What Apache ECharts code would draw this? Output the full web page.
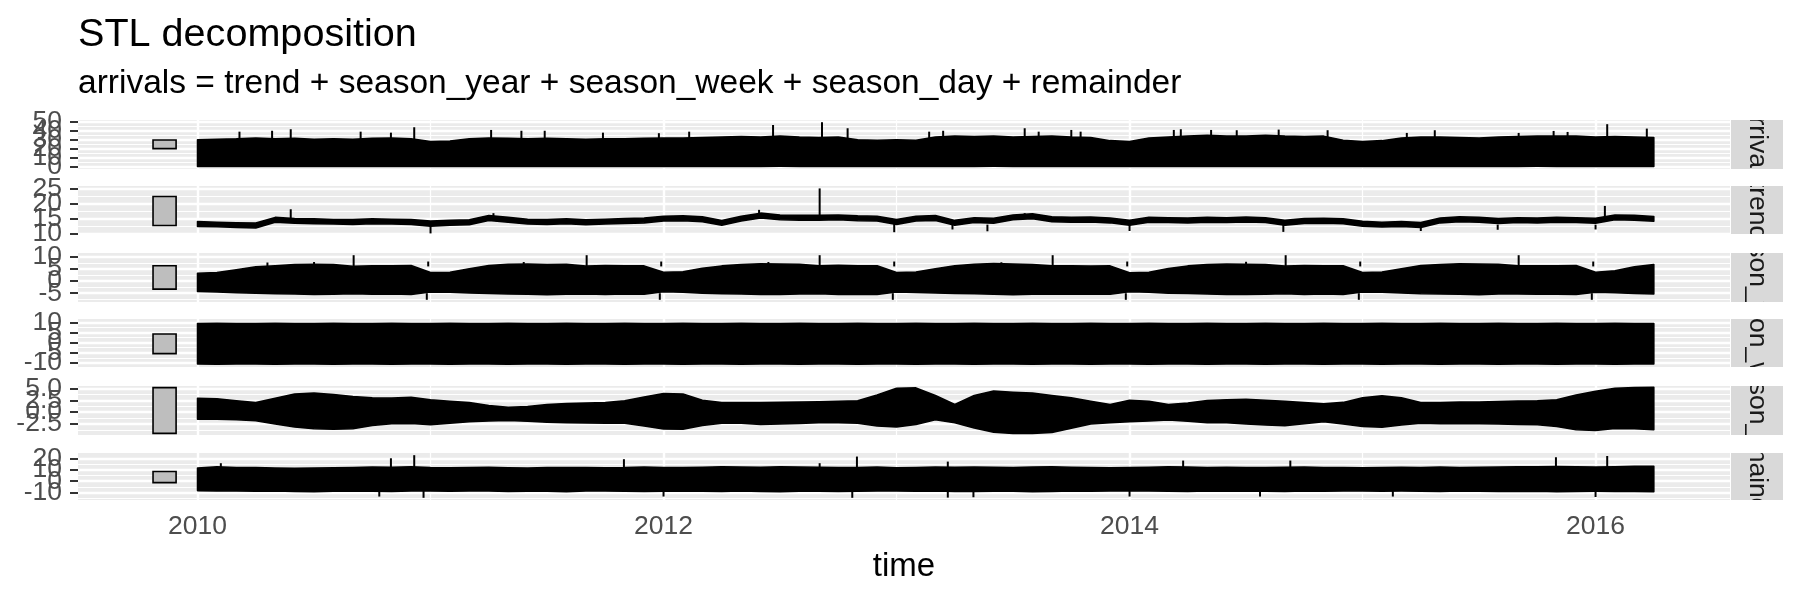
<!DOCTYPE html>
<html>
<head>
<meta charset="utf-8">
<script src="https://cdn.jsdelivr.net/npm/echarts@6/dist/echarts.min.js"></script>
<style>
  html, body { margin: 0; padding: 0; background: #fff; }
  #chart { width: 1800px; height: 600px; }
</style>
</head>
<body>
<div id="chart"></div>
<script>
// monthly upper / lower edges of each hourly trace, Jan 2010 .. Apr 2016 (76 months)
const arrivalsHi = [
  30, 30.5, 31, 32, 31, 31.5, 30.5, 31, 30.5, 31.5, 32, 31,
  28, 28.5, 31, 32, 31.5, 31, 31.5, 31, 30.5, 31, 31, 31.5,
  32, 32, 32.5, 33, 33.5, 33, 34, 33, 32.5, 33, 30, 29.5,
  30, 29.5, 33, 34, 33.5, 34, 33, 33.5, 34, 33, 32.5, 29,
  28, 32, 33, 34, 35, 34, 34, 35, 34, 33.5, 34, 29.5,
  28, 29, 32, 33, 33, 32.5, 32, 33, 33.5, 34, 34, 34,
  33, 33.5, 33, 32.5
]
const arrivalsLo = [
  0.4, 0.3, 0.5, 0.3, 0.4, 0.6, 0.3, 0.4, 0.5, 0.3, 0.4, 0.3,
  0.3, 0.4, 0.3, 0.5, 0.4, 0.3, 0.6, 0.4, 0.3, 0.4, 0.5, 0.3,
  0.4, 0.3, 0.5, 0.4, 0.3, 0.4, 0.6, 0.5, 0.4, 0.3, 0.4, 0.5,
  0.3, 0.4, 0.3, 0.5, 0.4, 0.6, 0.4, 0.3, 0.5, 0.4, 0.3, 0.4,
  0.5, 0.3, 0.4, 0.3, 0.6, 0.4, 0.5, 0.3, 0.4, 0.5, 0.3, 0.4,
  0.3, 0.4, 0.5, 0.4, 0.3, 0.5, 0.4, 0.3, 0.4, 0.6, 0.4, 0.3,
  0.4, 0.3, 0.5, 0.4
]
const trendHi = [
  14.0, 13.8, 13.6, 13.5, 15.4, 15.0, 14.9, 14.7, 14.7, 14.9, 14.8, 14.7,
  14.2, 14.4, 14.6, 16.0, 15.4, 14.8, 14.7, 14.9, 14.6, 14.8, 15.0, 15.2,
  15.8, 15.9, 15.6, 14.4, 15.8, 16.8, 16.2, 16.1, 16.1, 16.2, 15.9, 15.8,
  14.7, 15.8, 16.0, 14.4, 15.3, 15.1, 16.2, 16.6, 15.6, 15.4, 15.5, 15.2,
  14.4, 15.4, 15.3, 15.2, 15.4, 15.3, 15.5, 15.3, 14.4, 15.0, 15.1, 14.9,
  14.1, 13.8, 14.0, 13.7, 15.2, 15.6, 15.4, 15.0, 15.3, 15.2, 15.4, 15.3,
  15.1, 16.2, 16.1, 15.7
]
const trendLo = [
  12.4, 12.3, 12.1, 11.9, 13.8, 13.5, 13.3, 13.2, 13.1, 13.3, 13.2, 13.1,
  12.5, 12.8, 13.0, 14.4, 13.8, 13.2, 13.1, 13.3, 13.0, 13.2, 13.4, 13.6,
  14.2, 14.3, 14.0, 12.8, 14.2, 15.2, 14.6, 14.5, 14.5, 14.6, 14.3, 14.2,
  13.1, 14.2, 14.4, 12.8, 13.7, 13.5, 14.6, 15.0, 14.0, 13.8, 13.9, 13.6,
  12.8, 13.8, 13.7, 13.6, 13.8, 13.7, 13.9, 13.7, 12.8, 13.4, 13.5, 13.3,
  12.5, 12.2, 12.4, 12.1, 13.6, 14.0, 13.8, 13.4, 13.7, 13.6, 13.8, 13.7,
  13.5, 14.6, 14.5, 14.1
]
const yearHi = [
  3.2, 3.5, 4.6, 5.8, 6.3, 6.8, 6.9, 6.8, 6.0, 6.3, 6.2, 6.4,
  3.5, 3.6, 5.0, 6.4, 6.9, 7.0, 6.8, 6.9, 6.1, 6.4, 6.3, 6.2,
  3.6, 3.8, 5.2, 6.2, 6.8, 7.1, 7.0, 6.9, 6.2, 6.5, 6.2, 6.3,
  3.5, 3.7, 5.0, 6.3, 6.9, 7.2, 7.0, 6.8, 6.3, 6.3, 6.1, 6.2,
  3.4, 3.6, 5.1, 6.2, 6.8, 7.0, 6.9, 6.8, 6.1, 6.4, 6.2, 6.3,
  3.5, 3.7, 5.0, 6.4, 6.8, 7.1, 7.0, 6.9, 6.2, 6.3, 6.2, 6.4,
  3.6, 4.2, 5.8, 6.8
]
const yearLo = [
  -4.3, -4.5, -4.8, -5.0, -5.2, -5.3, -5.5, -5.4, -5.2, -5.4, -5.3, -5.5,
  -4.5, -4.6, -4.9, -5.1, -5.3, -5.4, -5.6, -5.4, -5.3, -5.5, -5.3, -5.4,
  -4.4, -4.6, -5.0, -5.2, -5.3, -5.5, -5.5, -5.3, -5.2, -5.5, -5.4, -5.5,
  -4.5, -4.7, -4.9, -5.1, -5.2, -5.4, -5.6, -5.4, -5.3, -5.4, -5.3, -5.4,
  -4.4, -4.6, -5.0, -5.1, -5.3, -5.5, -5.5, -5.4, -5.2, -5.5, -5.3, -5.5,
  -4.5, -4.6, -4.9, -5.2, -5.3, -5.4, -5.6, -5.3, -5.3, -5.4, -5.4, -5.5,
  -4.6, -4.8, -5.1, -5.3
]
const weekHi = [
  9.4, 9.5, 9.4, 9.4, 9.5, 9.4, 9.4, 9.5, 9.4, 9.4, 9.5, 9.4,
  9.4, 9.5, 9.4, 9.4, 9.5, 9.4, 9.4, 9.5, 9.4, 9.4, 9.5, 9.4,
  9.4, 9.5, 9.4, 9.4, 9.5, 9.4, 9.4, 9.5, 9.4, 9.4, 9.5, 9.4,
  9.4, 9.5, 9.4, 9.4, 9.5, 9.4, 9.4, 9.5, 9.4, 9.4, 9.5, 9.4,
  9.4, 9.5, 9.4, 9.4, 9.5, 9.4, 9.4, 9.5, 9.4, 9.4, 9.5, 9.4,
  9.4, 9.5, 9.4, 9.4, 9.5, 9.4, 9.4, 9.5, 9.4, 9.4, 9.5, 9.4,
  9.4, 9.5, 9.4, 9.4
]
const weekLo = [
  -10.5, -10.6, -10.5, -10.5, -10.6, -10.5, -10.5, -10.6, -10.5, -10.5, -10.6, -10.5,
  -10.5, -10.6, -10.5, -10.5, -10.6, -10.5, -10.5, -10.6, -10.5, -10.5, -10.6, -10.5,
  -10.5, -10.6, -10.5, -10.5, -10.6, -10.5, -10.5, -10.6, -10.5, -10.5, -10.6, -10.5,
  -10.5, -10.6, -10.5, -10.5, -10.6, -10.5, -10.5, -10.6, -10.5, -10.5, -10.6, -10.5,
  -10.5, -10.6, -10.5, -10.5, -10.6, -10.5, -10.5, -10.6, -10.5, -10.5, -10.6, -10.5,
  -10.5, -10.6, -10.5, -10.5, -10.6, -10.5, -10.5, -10.6, -10.5, -10.5, -10.6, -10.5,
  -10.5, -10.6, -10.5, -10.5
]
const dayHi = [
  2.9, 2.8, 2.4, 2.0, 2.9, 3.8, 4.0, 3.7, 3.3, 3.0, 2.95, 3.1,
  2.6, 2.3, 2.0, 1.4, 1.0, 1.2, 1.6, 1.8, 1.9, 2.0, 2.4, 3.2,
  3.9, 3.8, 2.5, 2.0, 2.0, 2.0, 2.05, 2.1, 2.2, 2.3, 2.4, 3.6,
  5.0, 5.1, 3.5, 1.6, 3.5, 4.45, 4.2, 4.0, 3.5, 3.0, 2.3, 1.6,
  2.5, 2.3, 1.6, 1.9, 2.45, 2.6, 2.7, 2.5, 2.3, 2.0, 1.75, 2.05,
  3.0, 3.45, 3.0, 2.0, 2.0, 2.1, 2.15, 2.25, 2.35, 2.4, 2.6, 3.6,
  4.4, 5.0, 5.15, 5.24
]
const dayLo = [
  -1.5, -1.5, -1.6, -1.8, -2.5, -3.1, -3.5, -3.6, -3.5, -2.8, -2.4, -2.35,
  -2.65, -2.3, -2.0, -1.85, -1.75, -1.9, -2.1, -2.2, -2.25, -2.3, -2.3, -2.9,
  -3.55, -3.6, -2.8, -2.3, -2.3, -2.6, -2.5, -2.35, -2.2, -2.2, -2.3, -2.9,
  -3.1, -2.6, -1.6, -2.2, -3.3, -4.2, -4.5, -4.45, -4.25, -3.4, -2.5, -2.2,
  -2.0, -1.85, -1.65, -1.9, -2.2, -2.2, -2.5, -2.7, -2.85, -2.4, -2.0, -2.5,
  -3.0, -3.15, -2.7, -2.3, -2.4, -2.45, -2.45, -2.5, -2.6, -2.65, -3.0, -3.7,
  -3.85, -3.4, -3.5, -3.7
]
const remHi = [
  11.5, 12.5, 11.8, 12.0, 11.5, 11.2, 11.4, 11.6, 12.0, 12.4, 12.2, 12.5,
  11.8, 11.6, 11.9, 12.1, 11.7, 11.5, 11.8, 12.0, 11.9, 11.7, 11.8, 12.3,
  12.0, 11.8, 12.2, 12.5, 12.3, 12.1, 12.6, 12.4, 12.2, 12.0, 11.8, 12.4,
  11.7, 12.0, 12.3, 12.1, 12.4, 12.2, 12.0, 12.3, 12.6, 12.2, 11.9, 11.6,
  11.9, 12.2, 12.5, 12.3, 12.0, 12.1, 11.8, 11.9, 12.2, 12.4, 12.0, 11.8,
  11.6, 11.9, 12.1, 11.9, 12.3, 12.0, 12.2, 12.4, 12.6, 12.5, 12.8, 12.6,
  12.4, 12.6, 12.9, 13.1
]
const remLo = [
  -8.2, -8.6, -8.4, -8.8, -8.5, -8.9, -9.2, -8.7, -8.5, -8.8, -9.0, -8.6,
  -8.4, -8.7, -8.5, -8.6, -8.9, -8.7, -8.8, -9.1, -8.6, -8.5, -8.8, -8.9,
  -8.7, -8.5, -8.8, -9.0, -8.6, -8.9, -9.2, -8.8, -8.7, -9.0, -8.8, -8.6,
  -8.5, -8.8, -8.6, -9.0, -8.9, -8.7, -8.8, -9.1, -8.9, -8.6, -8.7, -8.5,
  -8.6, -8.4, -8.7, -8.9, -8.6, -8.8, -8.5, -8.7, -8.9, -8.6, -8.8, -8.5,
  -8.4, -8.7, -8.6, -8.8, -8.9, -8.6, -8.7, -8.9, -9.0, -8.8, -9.1, -8.9,
  -8.8, -9.0, -8.9, -9.1
]

// isolated hourly spikes: [decimal year, from, to]
const arrivalsSpikes = [
  [2010.18, 30, 39], [2010.32, 30, 40], [2010.40, 30, 41.7], [2010.70, 30, 39], [2010.83, 30, 37.9],
  [2010.93, 30, 43.9], [2011.26, 30, 40.9], [2011.39, 30, 40], [2011.49, 30, 40], [2011.74, 30, 37.9],
  [2011.98, 30, 37.3], [2012.11, 30, 39], [2012.47, 30, 46.4], [2012.68, 30, 49.5], [2012.79, 30, 42.8],
  [2013.14, 30, 39], [2013.20, 30, 40], [2013.55, 30, 42.8], [2013.61, 30, 39], [2013.75, 30, 40.9],
  [2013.79, 30, 39], [2014.19, 30, 40.9], [2014.22, 30, 41.7], [2014.35, 30, 40.9], [2014.46, 30, 40.6],
  [2014.64, 30, 41.3], [2014.85, 30, 40.6], [2015.19, 30, 37.6], [2015.31, 30, 40.6], [2015.67, 30, 37.6],
  [2015.82, 30, 39.8], [2015.88, 30, 38.7], [2016.05, 30, 47.3], [2016.22, 30, 42.4]
]
const trendSpikes = [
  [2010.40, 15, 18.1], [2011.00, 12.5, 10.1], [2011.27, 15, 16.8], [2012.41, 16, 17.9], [2012.67, 16, 25.0],
  [2012.99, 13.5, 10.5], [2013.24, 13, 11.4], [2013.39, 13, 10.8], [2013.55, 15, 16.8], [2014.00, 13, 10.9],
  [2014.66, 13, 10.6], [2015.25, 12.5, 10.9], [2015.58, 13, 11.3], [2016.00, 13, 11.4], [2016.04, 15, 19.2]
]
const yearSpikes = [
  [2010.67, 6, 10.6], [2010.99, 6, 8.0], [2010.984, -5, -7.7],
  [2011.67, 6, 10.6], [2011.99, 6, 8.0], [2011.984, -5, -7.7],
  [2012.67, 6, 10.6], [2012.99, 6, 8.0], [2012.984, -5, -7.7],
  [2013.67, 6, 10.6], [2013.99, 6, 8.0], [2013.984, -5, -7.7],
  [2014.67, 6, 10.6], [2014.99, 6, 8.0], [2014.984, -5, -7.7],
  [2015.67, 6, 10.6], [2015.99, 6, 8.0], [2015.984, -5, -7.7],
  [2010.30, 6, 7.6], [2010.50, 6, 7.8], [2011.40, 6, 7.8], [2012.45, 6, 7.8], [2013.45, 6, 7.7], [2014.50, 6, 7.9]
]
const remSpikes = [
  [2010.10, 12, 15.7], [2010.83, 12, 20.0], [2010.93, 12, 22.7], [2011.83, 12, 19.2], [2012.67, 12, 15.7],
  [2012.83, 12, 21.5], [2013.22, 12, 17.1], [2014.23, 12, 18.0], [2014.69, 12, 18.0], [2015.83, 12, 20.9],
  [2016.05, 12, 22.0],
  [2010.78, -8.5, -13.4], [2010.97, -8.5, -14.5], [2012.00, -8.5, -13.4], [2012.81, -8.5, -14.5],
  [2013.22, -8.5, -14.3], [2013.33, -8.5, -14.0], [2014.00, -8.5, -13.4], [2014.56, -8.5, -13.4],
  [2015.13, -8.5, -13.4], [2016.00, -8.5, -13.8]
]

const stripLabels = ['arrivals', 'trend', 'season_year', 'season_week', 'season_day', 'remainder']
const panelMin = [-2.45, 9.9, -8.6, -12, -4.8, -16.4]
const panelMax = [51.95, 25.8, 11.5, 11.6, 5.5, 24.6]
const majorTicks = [[0, 10, 20, 30, 40, 50], [10, 15, 20, 25], [-5, 0, 5, 10], [-10, -5, 0, 5, 10], [-2.5, 0, 2.5, 5], [-10, 0, 10, 20]]
const minorTicks = [[5, 15, 25, 35, 45], [12.5, 17.5, 22.5], [-7.5, -2.5, 2.5, 7.5], [-7.5, -2.5, 2.5, 7.5], [-3.75, -1.25, 1.25, 3.75], [-15, -5, 5, 15]]
const yearTicks = [2010, 2012, 2014, 2016]
const minorYears = [2011, 2013, 2015]
// relative-scale bars at the left of each panel
const scaleBarX = [2009.809, 2009.908]
const scaleBarLo = [20.2, 12.7, -3.3, -5.4, -4.45, -1.2]
const scaleBarHi = [29.8, 22.3, 6.3, 4.2, 5.15, 8.4]

const months = arrivalsHi.map((_, k) => 2010 + k / 12)
const bands = [
  [arrivalsHi, arrivalsLo, arrivalsSpikes],
  [trendHi, trendLo, trendSpikes],
  [yearHi, yearLo, yearSpikes],
  [weekHi, weekLo, []],
  [dayHi, dayLo, []],
  [remHi, remLo, remSpikes]
]

const FONT = 'Liberation Sans, Arial, sans-serif'
const panelTop = [120, 186, 253, 319, 386, 453]
const panelH = [49, 48, 49, 48, 49, 47]
const plotLeft = 78
const plotRight = 1730
const xMin = 2009.487
const xMax = 2016.577

const chart = echarts.init(document.getElementById('chart'), null, { renderer: 'canvas' })

const grids = []
const xAxes = []
const yAxes = []
const series = []
const hidden = { axisLine: { show: false }, axisTick: { show: false }, axisLabel: { show: false } }

stripLabels.forEach((name, i) => {
  const last = i === stripLabels.length - 1
  grids.push({
    left: plotLeft, width: plotRight - plotLeft, top: panelTop[i], height: panelH[i],
    show: true, backgroundColor: '#EBEBEB', borderWidth: 0, outerBoundsMode: 'none'
  })
  const xIdx = xAxes.length
  xAxes.push({
    type: 'value', gridIndex: i, position: 'bottom', min: xMin, max: xMax,
    axisLine: { show: false },
    axisTick: { show: last, customValues: yearTicks, length: 8, lineStyle: { color: '#333333', width: 2 } },
    axisLabel: {
      show: last, customValues: yearTicks, margin: 13, fontSize: 26.5, color: '#4D4D4D',
      fontFamily: FONT, formatter: v => String(v)
    },
    splitLine: { show: true, lineStyle: { color: '#FFFFFF', width: 2.4 } },
    name: last ? 'time' : '', nameLocation: 'middle', nameGap: 50,
    nameTextStyle: { fontSize: 33, color: '#000000', fontFamily: FONT }
  })
  xAxes.push(Object.assign({
    type: 'value', gridIndex: i, position: 'bottom', min: xMin, max: xMax,
    splitLine: { show: true, lineStyle: { color: '#FFFFFF', width: 1.2 } }
  }, hidden, { axisTick: { show: false, customValues: minorYears } }))

  // major grid lines
  const yIdx = yAxes.length
  yAxes.push(Object.assign({
    type: 'value', gridIndex: i, position: 'left', min: panelMin[i], max: panelMax[i],
    splitLine: { show: true, lineStyle: { color: '#FFFFFF', width: 2.4 } }
  }, hidden, { axisTick: { show: false, customValues: majorTicks[i] } }))
  // minor grid lines
  yAxes.push(Object.assign({
    type: 'value', gridIndex: i, position: 'left', min: panelMin[i], max: panelMax[i],
    splitLine: { show: true, lineStyle: { color: '#FFFFFF', width: 1.2 } }
  }, hidden, { axisTick: { show: false, customValues: minorTicks[i] } }))
  // one axis per tick label, so the crowded labels are all drawn over each other as in the original
  majorTicks[i].forEach(v => {
    yAxes.push({
      type: 'value', gridIndex: i, position: 'left', min: panelMin[i], max: panelMax[i],
      axisLine: { show: false },
      splitLine: { show: false },
      axisTick: { show: true, customValues: [v], length: 8, lineStyle: { color: '#333333', width: 2 } },
      axisLabel: {
        show: true, customValues: [v], margin: 16, fontSize: 26.5, color: '#4D4D4D', fontFamily: FONT,
        showMinLabel: true, showMaxLabel: true,
        formatter: val => (i === 4 ? val.toFixed(1) : String(val))
      }
    })
  })

  const [hi, lo, spikes] = bands[i]
  // the dense hourly trace, drawn as the filled region between its upper and lower edges
  series.push({
    type: 'custom', xAxisIndex: xIdx, yAxisIndex: yIdx, silent: true, animation: false,
    encode: { x: 0, y: [1, 2] },
    data: [[months[0], lo[0], hi[0]]],
    renderItem: (params, api) => {
      const pts = months.map((t, k) => api.coord([t, hi[k]]))
      for (let k = months.length - 1; k >= 0; k--) pts.push(api.coord([months[k], lo[k]]))
      return {
        type: 'polygon',
        shape: { points: pts },
        style: { fill: '#000000', stroke: '#000000', lineWidth: 1.6, lineJoin: 'round' }
      }
    }
  })
  if (spikes.length) {
    series.push({
      type: 'custom', xAxisIndex: xIdx, yAxisIndex: yIdx, silent: true, animation: false,
      encode: { x: 0, y: [1, 2] },
      data: spikes,
      renderItem: (params, api) => {
        const a = api.coord([api.value(0), api.value(1)])
        const b = api.coord([api.value(0), api.value(2)])
        return { type: 'line', shape: { x1: a[0], y1: a[1], x2: b[0], y2: b[1] }, style: { stroke: '#000000', lineWidth: 2 } }
      }
    })
  }
  series.push({
    type: 'custom', xAxisIndex: xIdx, yAxisIndex: yIdx, silent: true, animation: false,
    encode: { x: [0, 1], y: [2, 3] },
    data: [[scaleBarX[0], scaleBarX[1], scaleBarLo[i], scaleBarHi[i]]],
    renderItem: (params, api) => {
      const p0 = api.coord([api.value(0), api.value(3)])
      const p1 = api.coord([api.value(1), api.value(2)])
      return {
        type: 'rect',
        shape: { x: p0[0], y: p0[1], width: p1[0] - p0[0], height: p1[1] - p0[1] },
        style: { fill: '#BEBEBE', stroke: '#000000', lineWidth: 1.6 }
      }
    }
  })
})

// facet strips on the right, text clipped to its strip
series.push({
  type: 'custom', coordinateSystem: 'none', silent: true, animation: false,
  data: stripLabels.map((_, i) => [i]),
  renderItem: (params) => {
    const i = params.dataIndex
    const x = plotRight + 1, w = 52, y = panelTop[i], h = panelH[i]
    return {
      type: 'group',
      clipPath: { type: 'rect', shape: { x, y, width: w, height: h } },
      children: [
        { type: 'rect', shape: { x, y, width: w, height: h }, style: { fill: '#D9D9D9' } },
        {
          type: 'text', x: x + w / 2, y: y + h / 2, rotation: -Math.PI / 2,
          style: {
            text: stripLabels[i], fill: '#1A1A1A', fontSize: 26.5, fontFamily: FONT,
            align: 'center', verticalAlign: 'middle'
          }
        }
      ]
    }
  }
})

chart.setOption({
  animation: false,
  backgroundColor: '#FFFFFF',
  title: [
    { text: 'STL decomposition', left: 78, top: 15, padding: 0, textStyle: { fontSize: 39.6, fontWeight: 'normal', color: '#000000', fontFamily: FONT } },
    { text: 'arrivals = trend + season_year + season_week + season_day + remainder', left: 78, top: 67, padding: 0, textStyle: { fontSize: 33.5, fontWeight: 'normal', color: '#000000', fontFamily: FONT } }
  ],
  grid: grids,
  xAxis: xAxes,
  yAxis: yAxes,
  series
})
</script>
</body>
</html>
